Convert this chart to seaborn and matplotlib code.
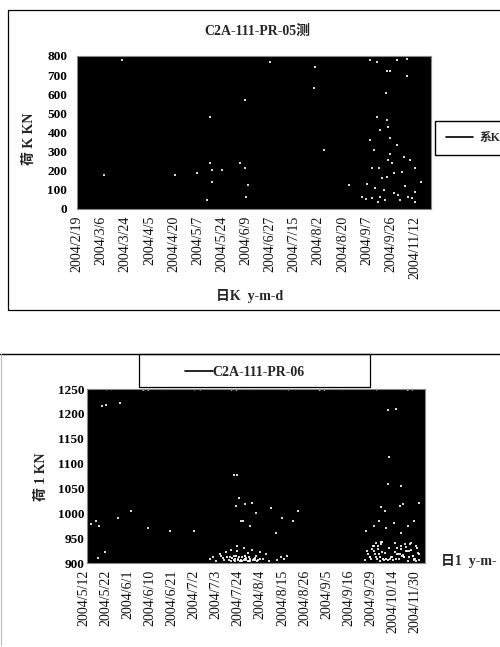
import matplotlib.pyplot as plt
import pandas as pd
import seaborn as sns
from matplotlib.lines import Line2D
from matplotlib.patches import Rectangle
from matplotlib.transforms import ScaledTranslation

W, H = 500, 647

### Readings, one per sample
load_05 = [
    798, 4, 792, 0, 800, 9, 788, 2, 796, 12, 800, 0, 790, 6, 797, 3, 786, 10,
    800, 1, 794, 7, 789, 0, 799, 5, 791, 13, 800, 2, 787, 8, 795, 0, 800, 4,
    790, 11, 798, 1, 785, 6, 796, 0, 800, 9, 792, 3, 788, 14, 799, 0, 794, 5,
    800, 2, 786, 10, 797, 7, 791, 0, 800, 4, 789, 12, 795, 1, 798, 6, 787, 0,
    800, 8, 793, 3, 790, 11, 799, 0, 796, 5, 800, 2, 793, 9, 797, 0, 790,
]
ticks_05 = [
    '2004/2/19', '2004/3/6', '2004/3/24', '2004/4/5', '2004/4/20',
    '2004/5/7', '2004/5/24', '2004/6/9', '2004/6/27', '2004/7/15',
    '2004/8/2', '2004/8/20', '2004/9/7', '2004/9/26', '2004/11/12',
]
gap_x_05 = [
    72.9, 74.5, 77.0, 77.9, 82.0, 79.5, 82.0, 76.9, 74.5, 77.0, 75.4, 77.4,
    72.9, 77.9, 79.5, 81.2, 73.3, 75.0, 77.4, 78.3, 82.8, 84.1, 77.0, 74.1,
    76.2, 85.6, 70.8, 73.3, 75.4, 78.7, 80.3, 82.4, 84.1, 67.5, 61.3, 59.2,
    58.8, 33.1, 33.5, 36.0, 40.5, 41.8, 29.8, 24.4, 33.5, 42.6, 32.4, 42.1,
    6.6, 41.8, 33.1, 48.0, 11.1, 73.9, 71.8, 75.8, 79.9, 81.6, 83.3, 76.5,
    78.9, 72.2, 74.9, 80.8, 83.9, 77.7,
]
gap_y_05 = [
    777, 769, 722, 722, 786, 777, 694, 607, 482, 464, 412, 430,
    360, 369, 334, 273, 212, 212, 256, 238, 256, 212, 169, 108,
    99, 143, 64, 56, 64, 82, 47, 64, 38, 125, 308, 742,
    635, 238, 203, 203, 238, 212, 190, 177, 143, 125, 47, 64,
    177, 572, 482, 769, 777, 310, 52, 160, 72, 120, 55, 45,
    190, 130, 35, 195, 90, 285,
]

load_06 = [
    1248, 902, 1244, 900, 1250, 903, 1241, 901, 1247, 900, 1250, 904, 1243,
    900, 1246, 902, 1240, 900, 1249, 903, 1245, 901, 1242, 900, 1250, 902,
    1244, 905, 1248, 900, 1241, 903, 1246, 901, 1250, 900, 1243, 904, 1247,
    902, 1240, 900, 1249, 901, 1245, 903, 1242, 900, 1250, 905, 1244, 901,
    1248, 900, 1241, 902, 1246, 904, 1250, 900, 1243, 901, 1247, 903, 1240,
    900, 1249, 902, 1245, 900, 1242, 904, 1250, 901, 1244, 903, 1248, 900,
    1241, 902, 1246, 900, 1250, 905, 1243, 901, 1247, 900, 1240, 903, 1249,
    902, 1245,
]
ticks_06 = [
    '2004/5/12', '2004/5/22', '2004/6/1', '2004/6/10', '2004/6/21',
    '2004/7/2', '2004/7/3', '2004/7/24', '2004/8/4', '2004/8/15',
    '2004/8/26', '2004/9/5', '2004/9/16', '2004/9/29', '2004/10/14',
    '2004/11/30',
]
gap_x_06 = [
    # low band, July to August
    33.5, 34.4, 35.2, 36.1, 37.0, 37.8, 38.6, 39.3, 39.9, 40.4, 40.9, 41.5,
    42.0, 42.6, 43.1, 43.7, 44.2, 44.8, 45.4, 46.0, 46.6, 47.2, 48.0, 48.8,
    49.5, 40.2, 41.2, 42.2, 43.2, 44.4, 45.6, 47.0, 38.9, 40.7, 42.9, 51.8,
    52.7, 53.6, 54.4,
    39.5, 40.1, 40.6, 41.1, 41.7, 42.3, 42.8, 43.4, 43.9, 44.5,
    45.1, 45.7, 46.3, 38.2, 37.2, 36.4, 39.1, 41.9, 43.0, 44.0,
    # low band, late September on
    75.8, 76.6, 77.3, 78.0, 78.6, 79.2, 79.8, 80.4, 81.0, 81.5, 82.1, 82.7,
    83.3, 83.9, 84.5, 85.0, 85.6, 86.2, 86.8, 87.4, 88.0, 88.6, 89.2, 89.8,
    90.4, 77.5, 78.7, 79.5, 80.1, 80.7, 84.3, 85.3, 86.3, 87.1, 88.3, 89.5,
    90.1, 78.2, 79.0, 79.9, 85.7, 87.7, 89.0, 76.9, 81.8, 84.0, 88.8, 86.5,
    76.2, 77.0, 77.9, 78.4, 79.1, 79.7, 80.3, 80.9, 84.7, 85.4,
    86.1, 86.9, 87.6, 88.2, 88.9, 89.6, 90.3, 82.4, 83.1, 83.7,
    # scattered above
    1.0, 2.5, 3.4, 4.0, 5.1, 8.5, 12.0, 16.6, 22.5, 29.0, 40.0, 41.5, 43.0,
    42.5, 44.8, 46.0, 40.5, 42.0, 44.5, 50.0, 51.5, 53.0, 56.0, 57.5, 76.0,
    78.0, 79.5, 81.0, 83.5, 85.5, 87.5, 89.0, 90.5, 80.0, 81.5, 85.2, 86.0,
    82.0, 85.5, 82.2, 9.0, 40.9, 82.0, 84.0, 2.9, 4.9,
]
gap_y_06 = [
    908, 912, 905, 918, 910, 922, 906, 926, 915, 909, 935, 912,
    906, 930, 908, 920, 905, 926, 909, 915, 906, 922, 908, 918,
    905, 905, 906, 905, 906, 905, 906, 908, 912, 925, 914, 906,
    912, 908, 915,
    910, 906, 914, 908, 905, 912, 907, 910, 905, 909,
    906, 910, 905, 912, 906, 914, 905, 905, 914, 912,
    906, 918, 908, 925, 912, 935, 905, 942, 920, 908, 930, 912,
    906, 940, 918, 908, 935, 912, 925, 905, 938, 915, 908, 930,
    906, 928, 940, 918, 938, 908, 930, 918, 912, 925, 940, 905,
    920, 935, 908, 942, 915, 925, 906, 912, 906, 908, 915, 938,
    925, 912, 934, 918, 928, 912, 922, 906, 918, 928,
    916, 932, 912, 926, 908, 934, 918, 908, 912, 922,
    978, 985, 975, 1215, 1217, 990, 1005, 970, 965, 965, 1078, 1030, 1018,
    985, 1020, 1000, 1015, 985, 975, 1010, 960, 990, 985, 1005, 965,
    975, 985, 1005, 980, 960, 975, 985, 1020, 1012, 970, 1015, 1018,
    1058, 1055, 1113, 1222, 1078, 1207, 1210, 910, 922,
]

sns.set_theme(style='white')
plt.rcParams['font.family'] = ['Liberation Serif', 'Noto Sans CJK SC']
plt.rcParams['axes.unicode_minus'] = False


def add_axes(left, right, top, bottom):
    # box given in image pixels
    return fig.add_axes([left / W, 1 - bottom / H, (right - left) / W, (bottom - top) / H])


def draw_panel(ax, load, ticks, gap_x, gap_y, label, line_width, gap_size):
    df = pd.DataFrame({'sample': range(len(load)), 'load': load})
    gaps = pd.DataFrame({'sample': gap_x, 'load': gap_y})
    sns.lineplot(data=df, x='sample', y='load', color='black', linewidth=line_width,
                 label=label, ax=ax, legend=False)
    sns.scatterplot(data=gaps, x='sample', y='load', color='white', s=gap_size, linewidth=0,
                    marker='s', ax=ax, legend=False, zorder=3, alpha=0.85)
    ax.set_xticks(range(0, 6 * len(ticks), 6))
    ax.set_xticklabels(ticks, rotation=90, fontsize=10, color='#111111')
    ax.set_xlim(0, len(load) - 1)
    ax.tick_params(axis='both', length=0, pad=5)
    ax.tick_params(axis='y', labelsize=9.5, labelcolor='black')
    for spine in ax.spines.values():
        spine.set_color('#888888')
        spine.set_linewidth(0.8)


fig = plt.figure(figsize=(W / 100, H / 100), dpi=100, facecolor='white')

### Upper chart
ax1 = add_axes(77, 431, 56, 209)
draw_panel(ax1, load_05, ticks_05, gap_x_05, gap_y_05, '系K', 6.5, 2.2)
ax1.set_ylim(0, 800)
ax1.set_yticks(range(0, 801, 100))
ax1.tick_params(axis='y', pad=7)
ax1.set_title('C2A-111-PR-05测', fontsize=10, fontweight='bold', pad=0, x=0.51, y=1.137)
ax1.set_xlabel('日K  y-m-d', fontsize=10, fontweight='bold')
ax1.xaxis.set_label_coords(0.489, -0.525)
ax1.set_ylabel('荷 K KN', fontsize=10, fontweight='bold')
ax1.yaxis.set_label_coords(-0.115, 0.457)
for lab in ax1.get_yticklabels():
    lab.set_fontweight('bold')
ax1.legend(loc='center left', bbox_to_anchor=(1.011, 0.464), frameon=True, fancybox=False,
           edgecolor='black', framealpha=1, handlelength=2.3, handletextpad=0.5, borderpad=0.95,
           borderaxespad=0, prop={'weight': 'bold', 'size': 8.5})
for line in ax1.get_legend().get_lines():
    line.set_linewidth(1.2)
ax1.get_legend().get_frame().set_linewidth(1)

### Lower chart
ax2 = add_axes(87, 425, 389, 563)
draw_panel(ax2, load_06, ticks_06, gap_x_06, gap_y_06, 'C2A-111-PR-06', 6, 3)
ax2.set_ylim(900, 1250)
ax2.set_yticks(range(900, 1251, 50))
ax2.tick_params(axis='y', pad=2)
for lab in ax2.get_yticklabels():
    lab.set_fontweight('bold')
# labels sit a little left of their ticks in the scan
for lab in ax2.get_xticklabels():
    lab.set_transform(lab.get_transform() + ScaledTranslation(-3 / 100, 0, fig.dpi_scale_trans))
ax2.set_xlabel('日1  y-m-', fontsize=10, fontweight='bold', ha='left')
ax2.xaxis.set_label_coords(1.047, 0.05)
ax2.set_ylabel('荷 1 KN', fontsize=10, fontweight='bold')
ax2.yaxis.set_label_coords(-0.115, 0.494)
ax2.legend(loc='center', bbox_to_anchor=(0.467, 1.095), frameon=False, handlelength=2,
           handletextpad=0, prop={'weight': 'bold', 'size': 10})
for line in ax2.get_legend().get_lines():
    line.set_linewidth(1.2)

### Scanned page frames
fig.add_artist(Rectangle((8 / W, 1 - 310 / H), 600 / W, 300 / H, transform=fig.transFigure,
                         fill=False, edgecolor='black', linewidth=0.9))
fig.add_artist(Line2D([0, 1], [1 - 354 / H, 1 - 354 / H], transform=fig.transFigure,
                      color='black', linewidth=1))
fig.add_artist(Line2D([0.5 / W, 0.5 / W], [1 - 354 / H, 1 - 645 / H], transform=fig.transFigure,
                      color='#bbbbbb', linewidth=0.8))
fig.add_artist(Rectangle((139 / W, 1 - 387 / H), 231 / W, 33 / H, transform=fig.transFigure,
                         fill=False, edgecolor='black', linewidth=0.9))

fig.savefig('out.png', dpi=100)
